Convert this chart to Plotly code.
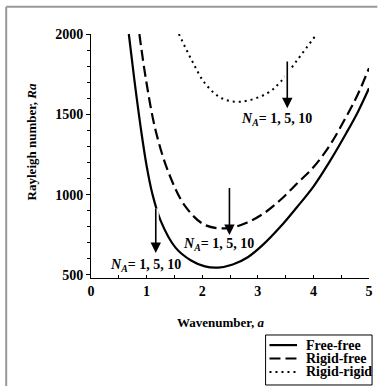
import plotly.graph_objects as go

# ---- data ----
ff_a  = [0.68, 0.78, 0.90, 1.00, 1.10, 1.25, 1.52, 1.80, 2.05, 2.29, 2.55, 2.82, 3.10, 3.41, 3.70, 4.00, 4.30, 4.59, 4.80, 5.00]
ff_ra = [2000, 1714, 1403, 1180, 1010, 840, 670, 590, 553, 546, 565, 610, 690, 801, 920, 1050, 1210, 1382, 1515, 1662]

rf_a  = [0.87, 0.99, 1.16, 1.40, 1.70, 2.05, 2.46, 2.80, 3.11, 3.40, 3.71, 4.00, 4.30, 4.59, 4.80, 5.00]
rf_ra = [2000, 1714, 1403, 1133, 925, 811, 791, 825, 884, 965, 1071, 1170, 1310, 1485, 1625, 1787]

rr_a  = [1.58, 1.81, 2.05, 2.35, 2.70, 3.17, 3.41, 3.71, 4.06]
rr_ra = [2000, 1838, 1693, 1600, 1579, 1631, 1703, 1838, 2000]

series_names = ["Free-free", "Rigid-free", "Rigid-rigid"]

# arrows: x, tail Ra, head Ra ; labels: x, Ra
arrow_x    = [1.165, 2.49, 3.53]
arrow_tail = [923, 1050, 1838]
arrow_head = [637, 749, 1538]
label_x    = [0.98, 2.30, 3.33]
label_ra   = [556, 687, 1465]
label_text = "<b><i>N<sub>A</sub></i>= 1, 5, 10</b>"

x_ticks = [0, 1, 2, 3, 4, 5]
y_ticks = [500, 1000, 1500, 2000]

FONT = "Liberation Serif"

fig = go.Figure()
styles = [dict(color="black", width=2.2, dash="solid"),
          dict(color="black", width=2.2, dash="11px,5px"),
          dict(color="black", width=2.0, dash="2px,4px")]
for a, ra, name, st in zip([ff_a, rf_a, rr_a], [ff_ra, rf_ra, rr_ra], series_names, styles):
    fig.add_trace(go.Scatter(x=a, y=ra, mode="lines", name=name, line=st,
                             line_shape="spline", showlegend=False, cliponaxis=True))

annotations = []
# white underlay for arrows (gap in curves)
for x, t, h in zip(arrow_x, arrow_tail, arrow_head):
    annotations.append(dict(x=x, y=h + 40, ax=x, ay=t, xref="x", yref="y", axref="x", ayref="y",
                            text="", showarrow=True, arrowhead=0, arrowwidth=6, arrowcolor="white"))
for x, t, h in zip(arrow_x, arrow_tail, arrow_head):
    annotations.append(dict(x=x, y=h, ax=x, ay=t, xref="x", yref="y", axref="x", ayref="y",
                            text="", showarrow=True, arrowhead=2, arrowsize=1.3, arrowwidth=1.6,
                            arrowcolor="black"))
for x, y in zip(label_x, label_ra):
    annotations.append(dict(x=x, y=y, xref="x", yref="y", text=label_text, showarrow=False,
                            font=dict(family=FONT, size=14, color="black")))

# axis titles
annotations.append(dict(x=0.466, y=-0.184, xref="paper", yref="paper", xanchor="center", yanchor="middle",
                        text="<b>Wavenumber, <i>a</i></b>", showarrow=False,
                        font=dict(family=FONT, size=13, color="black")))
annotations.append(dict(x=-0.213, y=0.559, xref="paper", yref="paper", textangle=-90,
                        xanchor="center", yanchor="middle",
                        text="<b>Rayleigh number, <i>Ra</i></b>", showarrow=False,
                        font=dict(family=FONT, size=13, color="black")))

# custom legend
shapes = []
shapes.append(dict(type="rect", xref="paper", yref="paper", x0=0.628, x1=1.011, y0=-0.4385, y1=-0.2336,
                   line=dict(color="black", width=1), fillcolor="white"))
leg_y = [-0.275, -0.330, -0.385]
for name, st, yy in zip(series_names, styles, leg_y):
    shapes.append(dict(type="line", xref="paper", yref="paper", x0=0.642, x1=0.741, y0=yy, y1=yy,
                       line=dict(color="black", width=st["width"], dash=st["dash"])))
    annotations.append(dict(x=0.766, y=yy, xref="paper", yref="paper", xanchor="left", yanchor="middle",
                            text="<b>%s</b>" % name, showarrow=False,
                            font=dict(family=FONT, size=14, color="black")))

# outer gray frame (left and top)
shapes.append(dict(type="line", xref="paper", yref="paper", x0=-0.305, x1=-0.305, y0=-0.45, y1=1.112,
                   line=dict(color="#999999", width=2)))
shapes.append(dict(type="line", xref="paper", yref="paper", x0=-0.305, x1=1.03, y0=1.112, y1=1.112,
                   line=dict(color="#999999", width=2)))

fig.update_layout(
    width=379, height=386,
    margin=dict(l=91, r=6, t=34, b=108),
    plot_bgcolor="white", paper_bgcolor="white",
    annotations=annotations, shapes=shapes, showlegend=False,
    xaxis=dict(range=[0, 5], tickvals=x_ticks, ticks="inside", ticklen=3, tickcolor="black",
               showline=True, linecolor="black", linewidth=1, showgrid=False, zeroline=False,
               minor=dict(dtick=0.5, ticks="inside", ticklen=3, tickcolor="black"),
               tickfont=dict(family=FONT, size=14, color="black", weight="bold")),
    yaxis=dict(range=[481, 2000], tickvals=y_ticks, ticks="outside", ticklen=4, tickcolor="black",
               showline=True, linecolor="black", linewidth=1, showgrid=False, zeroline=False,
               minor=dict(dtick=100, tick0=0, ticks="outside", ticklen=3, tickcolor="black"),
               tickfont=dict(family=FONT, size=14, color="black", weight="bold")),
)

fig.write_html("out.html")
